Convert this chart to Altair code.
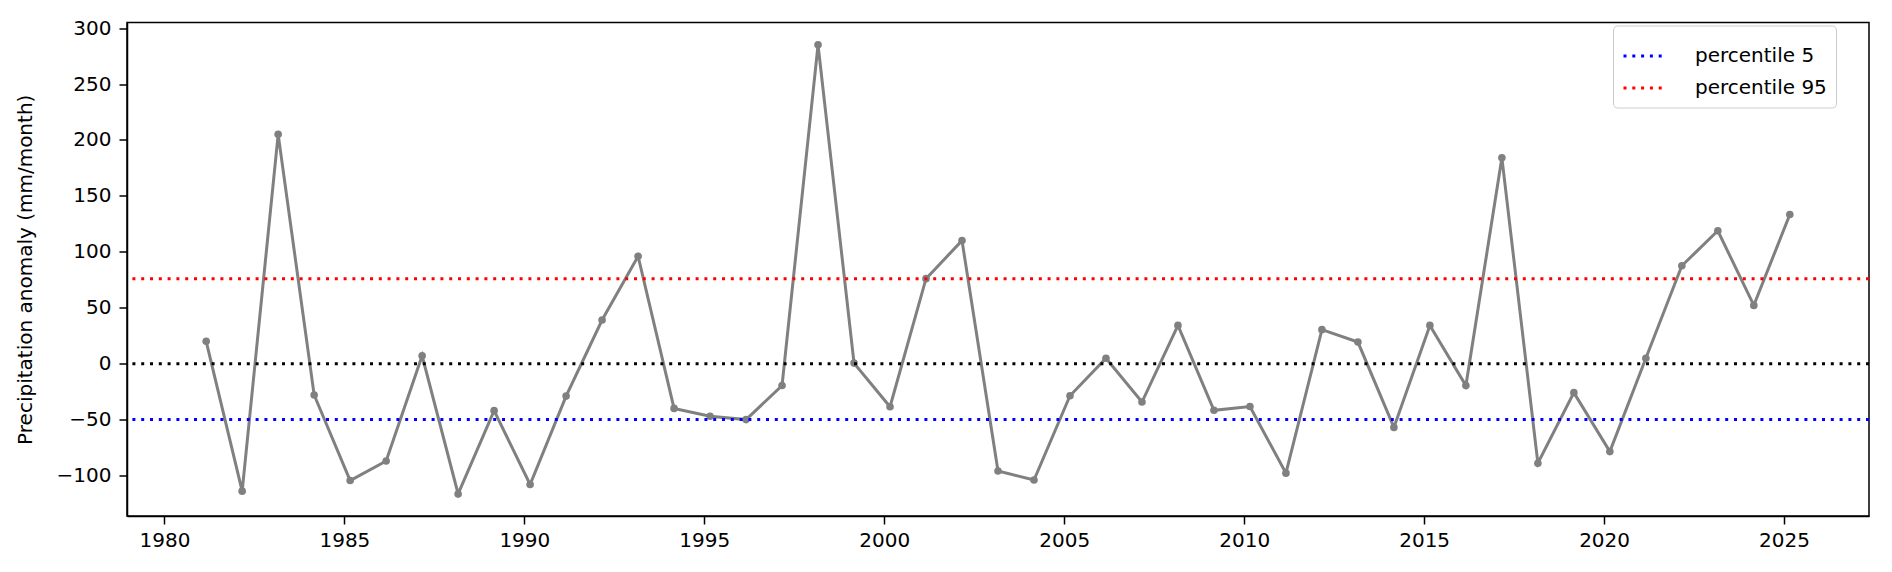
import altair as alt
import pandas as pd

# ---- data ----
years = list(range(1981, 2026))
anomaly = [20, -114, 205, -28, -104.5, -87, 7, -116.5, -42, -108,
           -29, 39, 96, -40, -47, -50, -19.5, 285, 0.5, -38.5,
           76, 110, -96, -104, -28.7, 4.8, -34.3, 34.2, -41.7, -38.3,
           -97.9, 30.4, 19.3, -57, 34.2, -19.6, 184, -89, -25.9, -78.6,
           4.8, 87.5, 118.8, 52.1, 133.3]
time_offset = 0.16  # time stamps fall early in each year (decimal year)

ref_labels = ["percentile 5", "percentile 95"]
ref_values = [-50, 76]
ref_colors = ["#0000ff", "#ff0000"]
zero_line = [0]

x_ticks = [1980, 1985, 1990, 1995, 2000, 2005, 2010, 2015, 2020, 2025]
y_ticks = [-100, -50, 0, 50, 100, 150, 200, 250, 300]
x_domain = [1978.96, 2027.36]
y_domain = [-136.2, 305.0]

FONT = "DejaVu Sans"

series = pd.DataFrame({"t": [y + time_offset for y in years], "v": anomaly})
refs = pd.DataFrame({"label": ref_labels, "v": ref_values})
zero = pd.DataFrame({"v": zero_line})

xs = alt.Scale(domain=x_domain, nice=False, zero=False)
ys = alt.Scale(domain=y_domain, nice=False, zero=False)

x_axis = alt.Axis(values=x_ticks, format="d", title=None, grid=False,
                  labelPadding=6)
y_axis = alt.Axis(values=y_ticks, format="d", grid=False,
                  title="Precipitation anomaly (mm/month)", titlePadding=21,
                  labelPadding=8)

line = alt.Chart(series).mark_line(color="#808080", strokeWidth=3).encode(
    x=alt.X("t:Q", scale=xs, axis=x_axis),
    y=alt.Y("v:Q", scale=ys, axis=y_axis),
)
points = alt.Chart(series).mark_circle(color="#808080", size=58, opacity=1).encode(
    x=alt.X("t:Q", scale=xs),
    y=alt.Y("v:Q", scale=ys),
)
zero_rule = alt.Chart(zero).mark_rule(color="black", strokeWidth=3,
                                       strokeDash=[3, 5.8]).encode(
    y=alt.Y("v:Q", scale=ys)
)
ref_rules = alt.Chart(refs).mark_rule(strokeWidth=3, strokeDash=[3, 5.8]).encode(
    y=alt.Y("v:Q", scale=ys),
    color=alt.Color(
        "label:N",
        scale=alt.Scale(domain=ref_labels, range=ref_colors),
        legend=alt.Legend(
            title=None, orient="none", legendX=1486, legendY=3,
            symbolType="stroke", symbolSize=1600, symbolStrokeWidth=3,
            symbolDash=[3, 5.8], labelFontSize=20, labelFont=FONT,
            labelColor="black", labelOffset=30, rowPadding=-11,
            padding=9, fillColor="rgba(255,255,255,0.8)",
            strokeColor="#cccccc", cornerRadius=4,
        ),
    ),
)

chart = alt.layer(line, points, zero_rule, ref_rules).properties(
    width=1742, height=493.5,
    autosize=alt.AutoSizeParams(type="none"),
    padding={"left": 119, "top": 14.5, "right": 15, "bottom": 48},
).configure_view(
    stroke="black", strokeWidth=1.5
).configure_axis(
    domainColor="black", domainWidth=1.5, tickColor="black", tickSize=8,
    tickWidth=1.5, labelFont=FONT, labelFontSize=20, labelColor="black",
    titleFont=FONT, titleFontSize=20, titleFontWeight="normal", titleColor="black",
)

chart.save("out.html", embed_options={"renderer": "svg", "actions": False})
